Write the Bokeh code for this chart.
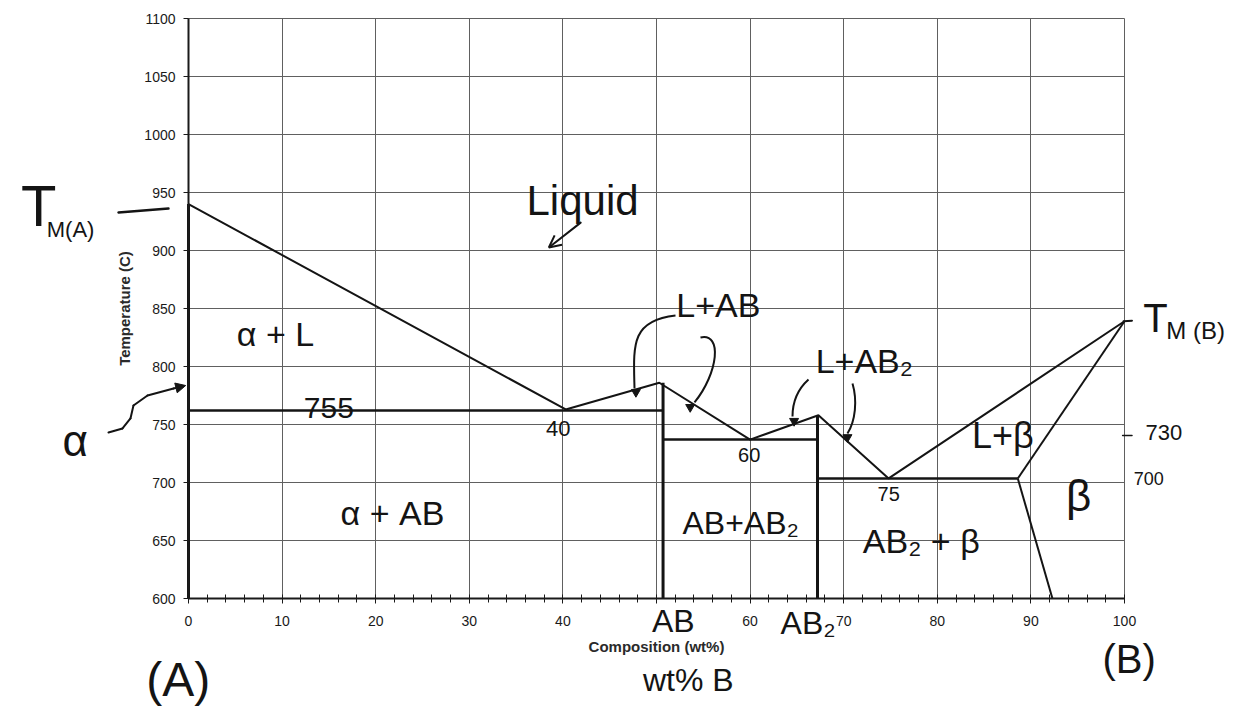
from bokeh.plotting import figure
from bokeh.models import Range1d, FixedTicker, Label, Arrow, NormalHead, OpenHead, LinearAxis, Grid
from bokeh.embed import file_html
from bokeh.resources import INLINE

# ---------------- data ----------------
x_ticks = [0, 10, 20, 30, 40, 50, 60, 70, 80, 90, 100]
x_minor = list(range(0, 101, 2))
y_ticks = [600, 650, 700, 750, 800, 850, 900, 950, 1000, 1050, 1100]

liquidus_x = [0, 40.3, 50.3, 60.0, 67.3, 74.8, 100]
liquidus_y = [940, 763, 786, 737, 758, 703.5, 839]

eutectic_T = [762, 737, 703.5]
eutectic_x0 = [0, 50.7, 67.2]
eutectic_x1 = [50.7, 67.2, 88.6]

compound_x = [50.7, 67.2]
compound_top = [786, 758]
compound_bottom = [600, 600]

alpha_x = [0, 0]
alpha_y = [600, 940]

beta_solidus_x = [88.6, 100]
beta_solidus_y = [703.5, 839]
beta_solvus_x = [88.6, 92.3]
beta_solvus_y = [703.5, 600]

marker_x = [47.8, 53.6, 64.7, 70.4]
marker_y = [778, 765, 753, 739]

# ---------------- figure ----------------
INK = "#141414"
HAND = "Liberation Sans"
AXF = "Liberation Sans"

W, H = 1233, 709
# frame spans the whole canvas; the axes sit at fixed data locations
PX_X = 9.36   # pixels per wt%
PX_Y = 1.16   # pixels per degree
x0_pix, y_top_pix = 188, 18
x_range = Range1d(-x0_pix / PX_X, -x0_pix / PX_X + W / PX_X)
y_range = Range1d(1100 + y_top_pix / PX_Y - H / PX_Y, 1100 + y_top_pix / PX_Y)

p = figure(width=W, height=H, x_range=x_range, y_range=y_range,
           x_axis_type=None, y_axis_type=None,
           output_backend="svg", toolbar_location=None,
           min_border=0, min_border_left=0, min_border_right=0,
           min_border_top=0, min_border_bottom=0)
p.background_fill_color = "white"
p.border_fill_color = "white"
p.outline_line_color = None

xaxis = LinearAxis(fixed_location=600, bounds=(0, 100),
                   ticker=FixedTicker(ticks=x_ticks, minor_ticks=x_minor),
                   axis_label="Composition (wt%)")
yaxis = LinearAxis(fixed_location=0, bounds=(600, 1100),
                   ticker=FixedTicker(ticks=y_ticks, minor_ticks=[]),
                   axis_label="Temperature (C)")
for ax in (xaxis, yaxis):
    ax.axis_line_color = "#1a1a1a"
    ax.axis_line_width = 2
    ax.major_tick_line_color = "#1a1a1a"
    ax.minor_tick_line_color = "#1a1a1a"
    ax.major_label_text_font = AXF
    ax.major_label_text_font_size = "14px"
    ax.major_label_text_color = "#1a1a1a"
    ax.axis_label_text_font = AXF
    ax.axis_label_text_font_size = "15px"
    ax.axis_label_text_font_style = "bold"
    ax.axis_label_text_color = "#2a2a2a"

xaxis.major_tick_in = 0
xaxis.major_tick_out = 5
xaxis.minor_tick_in = 4
xaxis.minor_tick_out = 4
xaxis.major_label_standoff = 12
xaxis.axis_label_standoff = 9
xaxis.major_label_overrides = {50: ""}

yaxis.major_tick_in = 0
yaxis.major_tick_out = 5
yaxis.minor_tick_in = 0
yaxis.minor_tick_out = 0
yaxis.major_label_standoff = 8
yaxis.axis_label_standoff = 8

p.add_layout(xaxis, "below")
p.add_layout(yaxis, "left")

xgrid = Grid(dimension=0, ticker=FixedTicker(ticks=x_ticks), cross_bounds=(600, 1100),
             grid_line_color="#606060", grid_line_width=1)
ygrid = Grid(dimension=1, ticker=FixedTicker(ticks=y_ticks), cross_bounds=(0, 100),
             grid_line_color="#606060", grid_line_width=1)
p.add_layout(xgrid)
p.add_layout(ygrid)

# ---------------- phase boundaries ----------------
p.line(liquidus_x, liquidus_y, line_color=INK, line_width=2)
p.segment(x0=eutectic_x0, y0=eutectic_T, x1=eutectic_x1, y1=eutectic_T, line_color=INK, line_width=2.5)
p.segment(x0=compound_x, y0=compound_top, x1=compound_x, y1=compound_bottom, line_color=INK, line_width=3)
p.line(alpha_x, alpha_y, line_color=INK, line_width=3)
p.line(beta_solidus_x, beta_solidus_y, line_color=INK, line_width=2)
p.line(beta_solvus_x, beta_solvus_y, line_color=INK, line_width=2)
p.scatter(marker_x, marker_y, marker="inverted_triangle", size=9, color=INK)

# ---------------- handwritten annotations ----------------
def hand(text, x, y, size, **kw):
    p.add_layout(Label(x=x, y=y, text=text, text_font=HAND, text_font_size=f"{size}px",
                       text_align="center", text_baseline="middle", text_color=INK, **kw))

def stroke(xs, ys, width=2, head=None):
    n = len(xs)
    for i in range(n - 1):
        end = head if (head is not None and i == n - 2) else None
        p.add_layout(Arrow(x_start=xs[i], y_start=ys[i], x_end=xs[i + 1], y_end=ys[i + 1],
                           start=None, end=end, line_color=INK, line_width=width, line_cap="round"))

hand("Liquid", 42.1, 943, 42)
stroke([41.9, 38.5], [924, 902.6], width=2,
       head=OpenHead(size=12, line_color=INK, line_width=2))

hand("α +   L", 10.3, 828, 34)
hand("755", 15.0, 764, 30)
hand("40", 39.5, 746.6, 22)
hand("60", 59.9, 724, 20)
hand("75", 74.8, 690.5, 20)
hand("L+AB", 56.6, 852.6, 34)
hand("L+AB₂", 72.2, 805, 34)
hand("L+β", 87.0, 740.5, 36)
hand("β", 95.1, 689, 44)
hand("α +  AB", 22.3, 674, 34)
hand("AB+AB₂", 59.0, 664.7, 32)
hand("AB₂  +  β", 79.3, 650, 34)

# curved pointers from the L+AB / L+AB2 labels
p.bezier(x0=[52.03, 54.70, 66.24, 70.94], y0=[844.0, 825.0, 788.8, 785.3],
         x1=[47.65, 54.06, 64.53, 70.40], y1=[781.0, 769.0, 756.9, 742.2],
         cx0=[47.22, 57.05, 65.17, 71.47], cy0=[839.7, 829.3, 781.0, 770.7],
         cx1=[47.54, 56.62, 64.53, 71.26], cy1=[818.1, 794.8, 770.7, 753.4],
         line_color=INK, line_width=2)

# outside the axes
hand("T", -16.0, 939, 58)
hand("M(A)", -12.6, 918, 22)
stroke([-7.48, -2.14], [932.8, 936.2], width=2.5)

hand("α", -12.1, 736, 44)
stroke([-8.55, -7.05, -6.20, -5.88, -4.38, -1.60, -0.3],
       [743.1, 746.6, 755.2, 766.4, 775.0, 781.0, 783.6], width=2,
       head=NormalHead(size=10, fill_color=INK, line_color=INK))

hand("T", 103.3, 842, 40)
hand("M (B)", 107.6, 831, 24)
stroke([99.9, 100.8], [839, 839.5], width=2)

stroke([99.8, 100.8], [740.5, 740.5], width=1.5)
hand("730", 104.2, 743, 22)
hand("700", 102.6, 703.4, 18)

hand("AB", 51.8, 581, 32)
hand("AB₂", 66.2, 579, 32)
hand("wt% B", 53.4, 530, 32)
hand("(A)", -1.1, 530, 48)
hand("(B)", 100.5, 548, 40)

open("out.html", "w").write(file_html(p, INLINE))
